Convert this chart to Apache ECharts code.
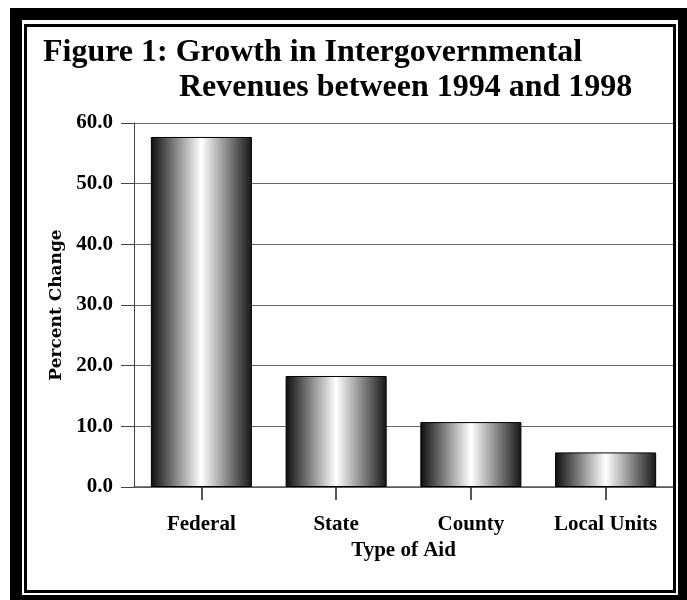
<!DOCTYPE html>
<html>
<head>
<meta charset="utf-8">
<script src="https://cdn.jsdelivr.net/npm/echarts@6/dist/echarts.min.js"></script>
<style>
  html, body { margin: 0; padding: 0; background: #fff; }
  #chart { width: 687px; height: 600px; }
</style>
</head>
<body>
<div id="chart"></div>
<script>
var categories = ['Federal', 'State', 'County', 'Local Units']
var percentChange = [57.7, 18.3, 10.7, 5.7]
var titleLines = ['Figure 1: Growth in Intergovernmental', 'Revenues between 1994 and 1998']

var serif = '"Liberation Serif", "Times New Roman", serif'

var chart = echarts.init(document.getElementById('chart'), null, { renderer: 'canvas' })

// bar fill: dark edges, bright center
var barFill = new echarts.graphic.LinearGradient(0, 0, 1, 0, [
  { offset: 0, color: '#0d0d0d' },
  { offset: 0.5, color: '#ffffff' },
  { offset: 1, color: '#161616' }
])

chart.setOption({
  backgroundColor: '#fff',
  animation: false,
  title: [
    {
      text: titleLines[0],
      left: 43,
      top: 37,
      padding: 0,
      textStyle: { fontFamily: serif, fontWeight: 'bold', fontSize: 32, color: '#000' }
    },
    {
      text: titleLines[1],
      left: 179,
      top: 72,
      padding: 0,
      textStyle: { fontFamily: serif, fontWeight: 'bold', fontSize: 32, color: '#000' }
    }
  ],
  graphic: [
    // double frame round the figure
    { type: 'rect', z: -10, shape: { x: 10, y: 8, width: 677, height: 592 }, style: { fill: '#000' } },
    { type: 'rect', z: -9, shape: { x: 22, y: 20, width: 656, height: 575 }, style: { fill: '#fff' } },
    { type: 'rect', z: -8, shape: { x: 25.5, y: 25.5, width: 649, height: 566 }, style: { fill: null, stroke: '#000', lineWidth: 3 } }
  ],
  grid: {
    left: 134,
    right: 14,
    top: 123,
    bottom: 113
  },
  xAxis: {
    type: 'category',
    data: categories,
    name: 'Type of Aid',
    nameLocation: 'middle',
    nameGap: 52,
    nameTextStyle: { fontFamily: serif, fontWeight: 'bold', fontSize: 21, color: '#000' },
    axisLine: { lineStyle: { color: '#555', width: 1.5 } },
    axisTick: { show: true, alignWithLabel: true, inside: false, length: 13, lineStyle: { color: '#222', width: 1.5 } },
    axisLabel: { margin: 27, fontFamily: serif, fontWeight: 'bold', fontSize: 21, color: '#000' }
  },
  yAxis: {
    type: 'value',
    min: 0,
    max: 60,
    interval: 10,
    name: 'Percent Change',
    nameLocation: 'middle',
    nameGap: 68,
    nameTextStyle: { fontFamily: '"DejaVu Serif", serif', fontWeight: 'bold', fontSize: 17, color: '#000' },
    axisLine: { show: true, lineStyle: { color: '#444', width: 1 } },
    axisTick: { show: true, length: 13, lineStyle: { color: '#444' } },
    axisLabel: {
      margin: 21,
      fontFamily: serif,
      fontWeight: 'bold',
      fontSize: 21,
      color: '#000',
      formatter: function (v) { return v.toFixed(1) }
    },
    splitLine: { lineStyle: { color: '#666', width: 1.2 } }
  },
  series: [
    {
      type: 'bar',
      data: percentChange,
      barWidth: '75%',
      itemStyle: {
        color: barFill,
        borderColor: '#000',
        borderWidth: 1
      }
    }
  ]
})
</script>
</body>
</html>
